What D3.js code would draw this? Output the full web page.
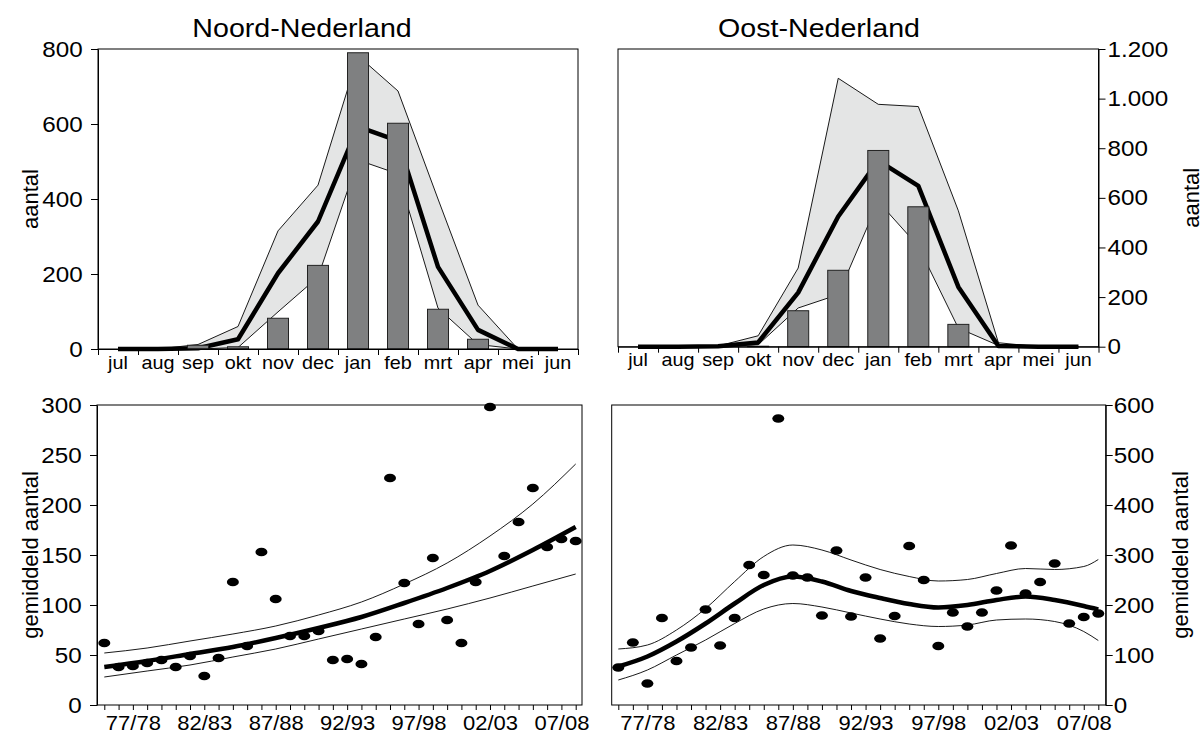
<!DOCTYPE html>
<html lang="nl">
<head>
<meta charset="UTF-8">
<title>Noord- en Oost-Nederland</title>
<script src="https://d3js.org/d3.v7.min.js"></script>
<style>
  body { margin: 0; background: #fff; }
  svg text { font-family: Arial, "Liberation Sans", sans-serif; fill: #000; }
  .axis path, .axis line { stroke: #000; stroke-width: 1; }
  .band { fill: #e4e5e5; stroke: none; }
  .edge { fill: none; stroke: #000; stroke-width: 0.9; }
  .mean { fill: none; stroke: #000; stroke-width: 4.5; stroke-linejoin: round; }
  .bar { fill: #7f8081; stroke: #222; stroke-width: 1; }
  .frame { fill: none; stroke: #000; stroke-width: 1; }
  .dot { fill: #000; }
</style>
</head>
<body>
<script>
// months of the season
const months = ["jul", "aug", "sep", "okt", "nov", "dec", "jan", "feb", "mrt", "apr", "mei", "jun"];

// Noord-Nederland, per month
const noordBars  = [0, 0, 10, 6, 82, 223, 790, 602, 106, 26, 0, 0];
const noordMean  = [0, 0, 2, 26, 202, 340, 593, 555, 219, 51, 0, 0];
const noordUpper = [0, 0, 12, 60, 315, 437, 782, 688, 400, 117, 0, 0];
const noordLower = [0, 0, 0, 4, 99, 192, 504, 467, 109, 12, 0, 0];

// Oost-Nederland, per month
const oostBars  = [0, 0, 0, 2, 145, 308, 791, 564, 90, 0, 0, 0];
const oostMean  = [0, 0, 2, 17, 218, 525, 750, 648, 241, 3, 0, 0];
const oostUpper = [0, 0, 3, 44, 317, 1082, 977, 968, 548, 16, 0, 0];
const oostLower = [0, 0, 0, 8, 156, 210, 585, 405, 75, 5, 0, 0];

// seasons 75/76 .. 08/09
const seasons = ["75/76", "76/77", "77/78", "78/79", "79/80", "80/81", "81/82", "82/83", "83/84",
  "84/85", "85/86", "86/87", "87/88", "88/89", "89/90", "90/91", "91/92", "92/93", "93/94",
  "94/95", "95/96", "96/97", "97/98", "98/99", "99/00", "00/01", "01/02", "02/03", "03/04",
  "04/05", "05/06", "06/07", "07/08", "08/09"];
const seasonLabels = ["77/78", "82/83", "87/88", "92/93", "97/98", "02/03", "07/08"];

// gemiddeld aantal per season
const noordAvg = [62, 38, 39, 42, 45, 38, 49, 29, 47, 123, 59, 153, 106, 69, 69, 74, 45,
  46, 41, 68, 227, 122, 81, 147, 85, 62, 123, 298, 149, 183, 217, 158, 166, 164];
const oostAvg = [75, 125, 43, 174, 88, 115, 191, 119, 174, 280, 260, 573, 259, 255, 179, 309, 177,
  255, 133, 178, 318, 250, 118, 185, 157, 185, 229, 319, 223, 246, 283, 163, 176, 183];

// trend lines
const noordTrendSeasons = ["75/76", "78/79", "81/82", "84/85", "87/88", "90/91", "93/94",
  "96/97", "99/00", "02/03", "05/06", "08/09"];
const noordTrend      = [38, 44, 51, 58, 67, 77, 88, 102, 117, 134, 155, 178];
const noordTrendUpper = [52, 57, 64, 71, 79, 90, 103, 121, 142, 169, 201, 241];
const noordTrendLower = [28, 34, 40, 48, 56, 66, 76, 86, 96, 107, 119, 131];

const oostTrendSeasons = ["75/76", "77/78", "79/80", "81/82", "83/84", "85/86", "87/88", "89/90",
  "91/92", "93/94", "95/96", "97/98", "99/00", "01/02", "03/04", "05/06", "07/08", "08/09"];
const oostTrend      = [77, 97, 127, 163, 203, 240, 257, 247, 228, 214, 202, 195, 200, 210, 217, 210, 198, 191];
const oostTrendUpper = [112, 120, 150, 193, 247, 297, 320, 310, 290, 271, 257, 248, 251, 263, 273, 271, 277, 291];
const oostTrendLower = [50, 70, 100, 130, 163, 192, 203, 196, 184, 172, 162, 157, 160, 170, 172, 167, 147, 129];

// axis ticks
const noordTicks = [0, 200, 400, 600, 800];
const oostTicks = [0, 200, 400, 600, 800, 1000, 1200];
const noordAvgTicks = [0, 50, 100, 150, 200, 250, 300];
const oostAvgTicks = [0, 100, 200, 300, 400, 500, 600];

const sx = 1.1; // text in the original is a little wider than normal
const nl = d3.formatLocale({ decimal: ",", thousands: ".", grouping: [3], currency: ["", ""] });
const fmt = nl.format(",d");

const svg = d3.select("body").append("svg")
  .attr("width", 1204)
  .attr("height", 733);

function yAxis(g, y, ticks, side, pad) {
  const ax = (side === "left" ? d3.axisLeft(y) : d3.axisRight(y))
    .tickValues(ticks).tickSize(7).tickSizeOuter(0).tickPadding(pad).tickFormat(fmt);
  g.attr("class", "axis").call(ax);
  g.selectAll("text").style("font-size", "22px").attr("transform", `scale(${sx},1)`);
}

function sideLabel(x, y, text) {
  svg.append("text")
    .attr("transform", `translate(${x},${y}) rotate(-90)`)
    .attr("text-anchor", "middle")
    .attr("dy", "0.35em")
    .style("font-size", "22px")
    .text(text);
}

function monthPanel(o) {
  const y = d3.scaleLinear().domain([0, d3.max(o.ticks)]).range([o.y1, o.y0]);
  const xb = d3.scaleBand().domain(months).range([o.x0, o.x1])
    .paddingInner(0.475).paddingOuter(0.2375);
  const xl = d3.scaleLinear().domain([0, 12]).range([o.x0, o.x1]);
  const xc = i => xb(months[i]) + xb.bandwidth() / 2;

  const g = svg.append("g");

  g.append("path")
    .attr("class", "band")
    .attr("d", d3.area().x((d, i) => xc(i)).y0((d, i) => y(o.lower[i])).y1(d => y(d))(o.upper));

  [o.upper, o.lower].forEach(s => {
    g.append("path").attr("class", "edge")
      .attr("d", d3.line().x((d, i) => xc(i)).y(d => y(d))(s));
  });

  g.append("path").attr("class", "mean")
    .attr("d", d3.line().x((d, i) => xc(i)).y(d => y(d))(o.mean));

  g.selectAll(".bar")
    .data(o.bars)
    .enter()
    .append("rect")
    .attr("class", "bar")
    .attr("x", (d, i) => xb(months[i]))
    .attr("width", xb.bandwidth())
    .attr("y", d => y(d))
    .attr("height", d => y(0) - y(d))
    .style("display", d => d > 0 ? null : "none");

  g.append("rect").attr("class", "frame")
    .attr("x", o.x0).attr("y", o.y0)
    .attr("width", o.x1 - o.x0).attr("height", o.y1 - o.y0);

  g.append("g")
    .attr("class", "axis")
    .attr("transform", `translate(0,${o.y1})`)
    .call(d3.axisBottom(xl).tickValues(d3.range(13)).tickSize(6).tickSizeOuter(0).tickFormat(""));

  const lab = g.append("g")
    .attr("transform", `translate(0,${o.y1})`)
    .call(d3.axisBottom(xb).tickSize(0).tickPadding(7));
  lab.select(".domain").remove();
  lab.selectAll("text").style("font-size", "18px").attr("transform", `scale(${sx},1)`);

  yAxis(g.append("g").attr("transform", `translate(${o.side === "left" ? o.x0 : o.x1},0)`),
    y, o.ticks, o.side, o.side === "left" ? 7 : 1.3);

  svg.append("text")
    .attr("transform", `translate(${o.titleX},37) scale(${sx},1)`)
    .attr("text-anchor", "middle")
    .style("font-size", "26px")
    .text(o.title);

  sideLabel(o.labelX, (o.y0 + o.y1) / 2, "aantal");
}

function seasonPanel(o) {
  const y = d3.scaleLinear().domain([0, d3.max(o.ticks)]).range([o.y1, o.y0]);
  const xs = d3.scalePoint().domain(seasons).range([o.t0, o.t1]);

  const g = svg.append("g");

  g.append("rect").attr("class", "frame")
    .attr("x", o.x0).attr("y", o.y0)
    .attr("width", o.x1 - o.x0).attr("height", o.y1 - o.y0);

  const line = d3.line()
    .x((d, i) => xs(o.trendSeasons[i]))
    .y(d => y(d))
    .curve(d3.curveMonotoneX);

  [o.upper, o.lower].forEach(s => {
    g.append("path").attr("class", "edge").attr("d", line(s));
  });
  g.append("path").attr("class", "mean").attr("stroke-width", 4.2).attr("d", line(o.trend));

  g.selectAll(".dot")
    .data(o.dots)
    .enter()
    .append("ellipse")
    .attr("class", "dot")
    .attr("cx", (d, i) => xs(seasons[i]))
    .attr("cy", d => y(d))
    .attr("rx", 6)
    .attr("ry", 4.3);

  g.append("g")
    .attr("class", "axis")
    .attr("transform", `translate(0,${o.y1})`)
    .call(d3.axisBottom(xs).tickSize(5).tickSizeOuter(0).tickFormat(""))
    .select(".domain").remove();

  const lab = g.append("g")
    .attr("transform", `translate(0,${o.y1})`)
    .call(d3.axisBottom(xs).tickValues(seasonLabels).tickSize(0).tickPadding(11));
  lab.select(".domain").remove();
  lab.selectAll("text").style("font-size", "20px").attr("transform", `scale(${sx},1)`);

  yAxis(g.append("g").attr("transform", `translate(${o.side === "left" ? o.x0 : o.x1},0)`),
    y, o.ticks, o.side, o.side === "left" ? 7 : 0.3);

  sideLabel(o.labelX, (o.y0 + o.y1) / 2, "gemiddeld aantal");
}

monthPanel({
  x0: 98, x1: 578, y0: 49, y1: 349, ticks: noordTicks, side: "left",
  bars: noordBars, mean: noordMean, upper: noordUpper, lower: noordLower,
  title: "Noord-Nederland", titleX: 302, labelX: 30
});

monthPanel({
  x0: 618, x1: 1098.5, y0: 49, y1: 346.7, ticks: oostTicks, side: "right",
  bars: oostBars, mean: oostMean, upper: oostUpper, lower: oostLower,
  title: "Oost-Nederland", titleX: 819, labelX: 1191
});

seasonPanel({
  x0: 97, x1: 582, t0: 104.3, t1: 575.7, y0: 405, y1: 705, ticks: noordAvgTicks, side: "left",
  dots: noordAvg, trendSeasons: noordTrendSeasons,
  trend: noordTrend, upper: noordTrendUpper, lower: noordTrendLower, labelX: 30
});

seasonPanel({
  x0: 611.7, x1: 1105.7, t0: 618.3, t1: 1098.3, y0: 405, y1: 705, ticks: oostAvgTicks, side: "right",
  dots: oostAvg, trendSeasons: oostTrendSeasons,
  trend: oostTrend, upper: oostTrendUpper, lower: oostTrendLower, labelX: 1180
});
</script>
</body>
</html>
